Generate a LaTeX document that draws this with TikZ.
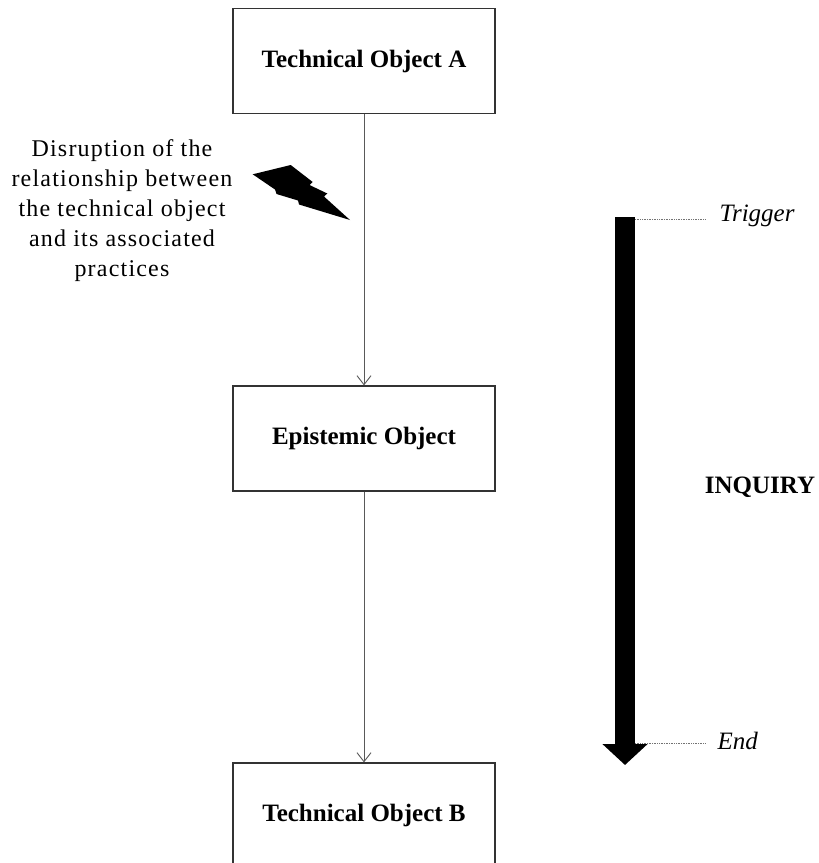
\documentclass[tikz,border=0pt]{standalone}
\usepackage{fontspec}
\setmainfont{Liberation Serif}
\newfontfamily\spacedfont[LetterSpace=5]{Liberation Serif}
\usepackage{tikz}
\usetikzlibrary{arrows.meta}
\usepackage{color}

\tikzset{
  objbox/.style={draw=black!80, line width=1.2pt, fill=white, minimum width=262pt,
    minimum height=105pt, font=\fontsize{25}{30}\selectfont\bfseries},
  flow/.style={draw=black!65, line width=0.9pt, -{Straight Barb[length=9pt,width=14pt]}},
  marker/.style={draw=black!55, line width=0.7pt, densely dotted},
}

\begin{document}
\begin{tikzpicture}[x=1pt, y=-1pt]
       % Sizes
       \pgfmathsetmacro{\midx}{364}
       \pgfmathsetmacro{\barx}{625}
       \useasboundingbox (0,0) rectangle (819,863);
       % boxes
       \node[objbox] (techA) at (\midx, 61) {Technical Object A};
       \node[objbox] (epist) at (\midx, 438.5) {Epistemic Object};
       \node[objbox] (techB) at (\midx, 815.5) {Technical Object B};

       % flow between boxes
       \draw[flow] (techA) -- (epist);
       \draw[flow] (epist) -- (techB);

       % disruption
       \node[align=center, font=\spacedfont\fontsize{24}{30}\selectfont] (disrupt) at (122, 211)
         {Disruption of the\\relationship between\\the technical object\\and its associated\\practices};
       \fill[black] (252.7,174.3) -- (290.7,165) -- (312.7,182) -- (309.5,185)
         -- (327.3,193.5) -- (324,196.5) -- (350,220) -- (299,204.5) -- (298,200.5)
         -- (276.5,194) -- (275,189.5) -- cycle;

       % inquiry bar
       \coordinate (trig) at (\barx, 217);
       \coordinate (fin) at (\barx, 765);
       \coordinate (trigend) at (705, 219);
       \coordinate (finend) at (705, 743);
       \draw[line width=20pt, -{Triangle[length=21pt,width=44pt]}] (trig) -- (fin);
       \draw[marker] (\barx+10, 219) -- (trigend);
       \draw[marker] (\barx+10, 743) -- (finend);

       % labels
       \node[anchor=west, font=\fontsize{25}{30}\selectfont\itshape] (trigtext) at (716, 216) {Trigger};
       \node[anchor=west, font=\fontsize{25}{30}\selectfont\itshape] (endtext) at (714, 741) {End};
       \node[font=\fontsize{25}{30}\selectfont\bfseries] (inquiry) at (760, 487) {INQUIRY};
\end{tikzpicture}
\end{document}
